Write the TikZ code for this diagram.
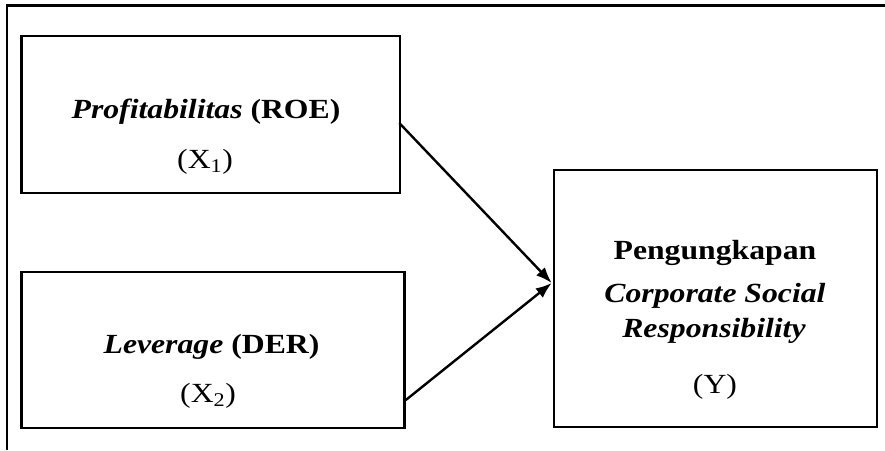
\documentclass[tikz,border=0pt]{standalone}
\usepackage{fontspec}
\setmainfont{Liberation Serif}[FakeStretch=1.145]
\usepackage{tikz}
\usetikzlibrary{positioning,arrows.meta}

\begin{document}
\begin{tikzpicture}[
  x=1pt, y=-1pt,
  >=Latex,
  every node/.style={font=\fontsize{27.7}{33}\selectfont, align=center},
  var/.style={draw=black, line width=2.6pt, inner sep=0pt},
  txt/.style={anchor=base, inner sep=0pt},
  e/.style={-{Latex[length=16pt,width=12pt]}, line width=2.4pt, draw=black}
]
\useasboundingbox (0,0) rectangle (885,450);
\draw[line width=2.6pt] (885,5.7) -- (7,5.7) -- (7,450);

\node[var, minimum width=378.5pt, minimum height=157pt] (P) at (210.75,114.5) {};
\node[var, minimum width=383pt, minimum height=156pt] (L) at (213,350) {};
\node[var, minimum width=323pt, minimum height=257pt] (Y) at (715.5,298.5) {};

\node[txt] (P1) at (206,118) {\textbf{\textit{Profitabilitas} (ROE)}};
\node[txt] (P2) at (205,168) {(X\textsubscript{1})};
\node[txt] (L1) at (211.5,353) {\textbf{\textit{Leverage} (DER)}};
\node[txt] (L2) at (208,402) {(X\textsubscript{2})};
\node[txt] (Y1) at (715,259) {\textbf{Pengungkapan}};
\node[txt] (Y2) at (715,302) {\textbf{\textit{Corporate Social}}};
\node[txt] (Y3) at (714,337) {\textbf{\textit{Responsibility}}};
\node[txt] (Y4) at (715,393) {(Y)};

\draw[e] ([xshift=-2pt,yshift=-8.5pt]P.east) -- ([xshift=-1pt,yshift=15.5pt]Y.west);
\draw[e] ([yshift=-50pt]L.east) -- ([xshift=-1pt,yshift=15.5pt]Y.west);
\end{tikzpicture}
\end{document}
